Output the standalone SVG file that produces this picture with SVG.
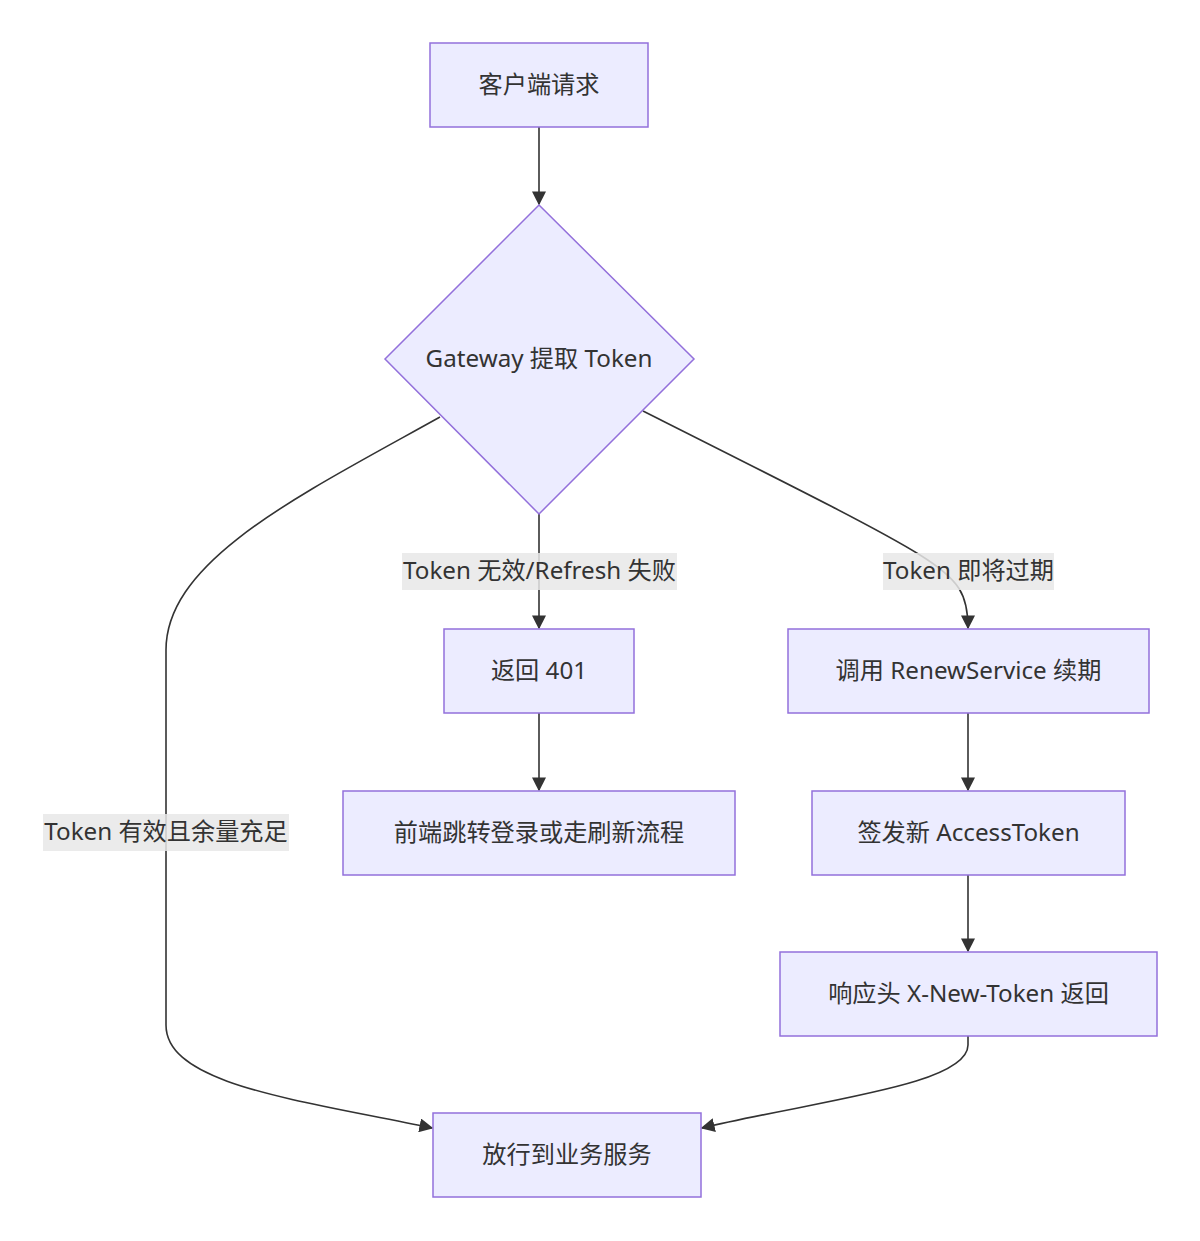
<svg xmlns="http://www.w3.org/2000/svg" width="1200" height="1241" viewBox="0 0 1200 1241">
<defs>
<style>
.node rect,.node polygon{fill:#ECECFF;stroke:#9370DB;stroke-width:1.5}
text{font-family:"Noto Sans","Noto Sans CJK SC",sans-serif;font-size:24.2px;fill:#333;text-anchor:middle;dominant-baseline:central}
.edge{fill:none;stroke:#333;stroke-width:1.6}
.lbg{fill:#e8e8e8;fill-opacity:0.85}
</style>
<marker id="arr" markerUnits="userSpaceOnUse" markerWidth="14" markerHeight="14" viewBox="0 0 10 10" refX="9" refY="5" orient="auto">
<path d="M0,0 L10,5 L0,10 z" fill="#333"/>
</marker>
</defs>
<rect width="1200" height="1241" fill="#fff"/>
<g id="edges">
<path class="edge" d="M539,127 L539,204" marker-end="url(#arr)"/>
<path class="edge" d="M539,514 L539,628" marker-end="url(#arr)"/>
<path class="edge" d="M643,411 C800,490 880,530 920,555 C960,580 968,595 968,628" marker-end="url(#arr)"/>
<path class="edge" d="M440,417 C300,495 166,560 166,650 L166,1025 C166,1085 300,1100 432,1128" marker-end="url(#arr)"/>
<path class="edge" d="M539,713 L539,790" marker-end="url(#arr)"/>
<path class="edge" d="M968,713 L968,790" marker-end="url(#arr)"/>
<path class="edge" d="M968,875 L968,951" marker-end="url(#arr)"/>
<path class="edge" d="M968,1036 L968,1045 C968,1085 820,1100 702,1128" marker-end="url(#arr)"/>
</g>
<g id="edge-labels">
<rect class="lbg" x="402" y="553" width="275" height="37"/>
<text x="539.5" y="569.5">Token 无效/Refresh 失败</text>
<rect class="lbg" x="883" y="553" width="171" height="37"/>
<text x="968.5" y="569.5">Token 即将过期</text>
<rect class="lbg" x="43" y="814" width="246" height="37"/>
<text x="166" y="830.5">Token 有效且余量充足</text>
</g>
<g id="n_client" class="node"><rect x="430" y="43" width="218" height="84"/><text x="539" y="83.5">客户端请求</text></g>
<g id="n_gateway" class="node"><polygon points="539,205 694,359 539,514 385,359"/><text x="539" y="357.5">Gateway 提取 Token</text></g>
<g id="n_401" class="node"><rect x="444" y="629" width="190" height="84"/><text x="539" y="669.5">返回 401</text></g>
<g id="n_renew" class="node"><rect x="788" y="629" width="361" height="84"/><text x="968.5" y="669.5">调用 RenewService 续期</text></g>
<g id="n_front" class="node"><rect x="343" y="791" width="392" height="84"/><text x="539" y="831.5">前端跳转登录或走刷新流程</text></g>
<g id="n_issue" class="node"><rect x="812" y="791" width="313" height="84"/><text x="968.5" y="831.5">签发新 AccessToken</text></g>
<g id="n_resp" class="node"><rect x="780" y="952" width="377" height="84"/><text x="968.5" y="992.5">响应头 X-New-Token 返回</text></g>
<g id="n_pass" class="node"><rect x="433" y="1113" width="268" height="84"/><text x="567" y="1153.5">放行到业务服务</text></g>
</svg>
